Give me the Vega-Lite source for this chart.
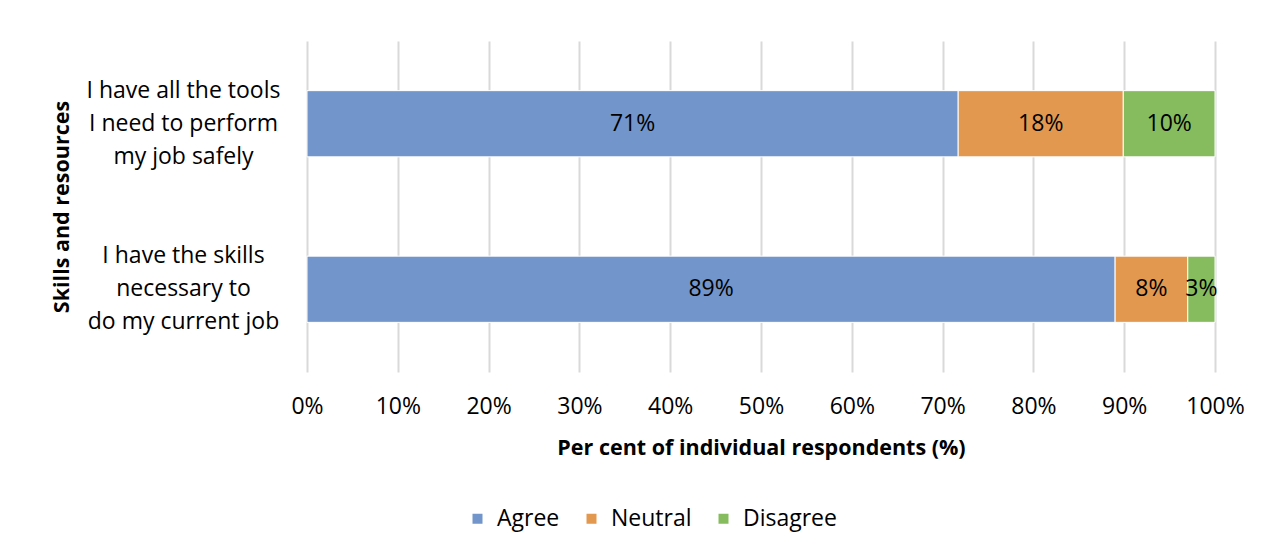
{
  "$schema": "https://vega.github.io/schema/vega-lite/v6.json",
  "width": 908,
  "height": 331,
  "autosize": {"type": "none"},
  "padding": {"left": 307, "top": 41, "right": 48, "bottom": 180},
  "background": "white",
  "config": {"font": "Open Sans", "view": {"stroke": null}},
  "data": {
    "values": [
      {"question": "I have all the tools|I need to perform|my job safely", "response": "Agree", "value": 71},
      {"question": "I have all the tools|I need to perform|my job safely", "response": "Neutral", "value": 18},
      {"question": "I have all the tools|I need to perform|my job safely", "response": "Disagree", "value": 10},
      {"question": "I have the skills|necessary to|do my current job", "response": "Agree", "value": 89},
      {"question": "I have the skills|necessary to|do my current job", "response": "Neutral", "value": 8},
      {"question": "I have the skills|necessary to|do my current job", "response": "Disagree", "value": 3}
    ]
  },
  "transform": [
    {"calculate": "indexof(['Agree','Neutral','Disagree'], datum.response)", "as": "rank"},
    {"stack": "value", "groupby": ["question"], "sort": [{"field": "rank", "order": "ascending"}], "offset": "normalize", "as": ["x0", "x1"]},
    {"calculate": "(datum.x0 + datum.x1) / 2", "as": "mid"},
    {"calculate": "datum.value + '%'", "as": "label"}
  ],
  "encoding": {
    "y": {
      "field": "question",
      "type": "nominal",
      "sort": ["I have all the tools|I need to perform|my job safely", "I have the skills|necessary to|do my current job"],
      "scale": {"paddingInner": 0.6, "paddingOuter": 0.3},
      "axis": {
        "domain": false,
        "ticks": false,
        "grid": false,
        "labelAlign": "center",
        "labelBaseline": "middle",
        "labelPadding": 124,
        "labelOffset": -33,
        "labelFontSize": 23,
        "labelLineHeight": 33,
        "labelLimit": 400,
        "labelColor": "black",
        "labelExpr": "split(datum.label, '|')",
        "title": "Skills and resources",
        "titleFontSize": 21.5,
        "titleFontWeight": "bold",
        "titleColor": "black",
        "titleX": -245,
        "titleBaseline": "middle"
      }
    }
  },
  "layer": [
    {
      "mark": {"type": "bar", "stroke": "white", "strokeWidth": 1},
      "encoding": {
        "x": {
          "field": "x0",
          "type": "quantitative",
          "scale": {"domain": [0, 1], "nice": false},
          "axis": {
            "format": "%",
            "values": [0, 0.1, 0.2, 0.3, 0.4, 0.5, 0.6, 0.7, 0.8, 0.9, 1],
            "domain": false,
            "ticks": false,
            "grid": true,
            "gridColor": "#d9d9d9",
            "gridWidth": 2,
            "labelFontSize": 23,
            "labelColor": "black",
            "labelPadding": 23,
            "labelFlush": false,
            "title": "Per cent of individual respondents (%)",
            "titleFontSize": 21.5,
            "titleFontWeight": "bold",
            "titleColor": "black",
            "titlePadding": 19
          }
        },
        "x2": {"field": "x1"},
        "color": {
          "field": "response",
          "type": "nominal",
          "sort": ["Agree", "Neutral", "Disagree"],
          "scale": {"domain": ["Agree", "Neutral", "Disagree"], "range": ["#7295CB", "#E2984F", "#86BC5E"]},
          "legend": {
            "orient": "none",
            "legendX": 159,
            "legendY": 466,
            "direction": "horizontal",
            "title": null,
            "symbolType": "square",
            "symbolSize": 100,
            "symbolStrokeWidth": 0,
            "labelFontSize": 23,
            "labelColor": "black",
            "labelOffset": 8,
            "columnPadding": 20
          }
        }
      }
    },
    {
      "mark": {"type": "text", "fontSize": 23, "color": "black"},
      "encoding": {
        "x": {"field": "mid", "type": "quantitative"},
        "text": {"field": "label"}
      }
    }
  ]
}
